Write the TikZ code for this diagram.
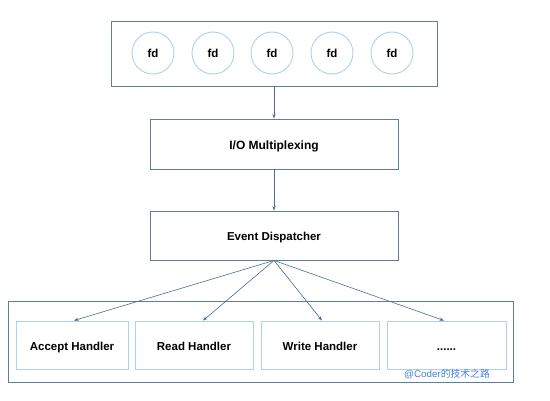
\documentclass[tikz,border=0pt]{standalone}
\usepackage{fontspec}
\setmainfont{Liberation Sans}
\newfontfamily\cjk{Noto Sans CJK SC}
\usetikzlibrary{arrows.meta,calc}
\definecolor{framec}{HTML}{5F7E9C}
\definecolor{lightc}{HTML}{A9D3F0}
\definecolor{arrc}{HTML}{4B6E92}
\definecolor{markc}{HTML}{4A7FE0}
\tikzset{
  frame/.style={draw=framec,line width=0.9pt,minimum height=#1,
    text height=11pt,text depth=1pt},
  fdcircle/.style={draw=lightc,line width=0.9pt,circle,minimum size=42pt,inner sep=0pt},
  handler/.style={draw=lightc,line width=0.9pt,minimum height=48pt,inner sep=0pt,
    text height=11pt,text depth=1pt},
  arr/.style={draw=arrc,line width=0.6pt,-{Stealth[length=4.5pt,width=3.2pt]}}
}
\begin{document}
\begin{tikzpicture}[x=1pt,y=1pt,font=\fontsize{11.5}{13}\selectfont\bfseries]
  \useasboundingbox (0,0) rectangle (550,400);
  \fill[white] (0,0) rectangle (550,400);
  % fd set
  \node[frame=65pt,minimum width=326pt] (fds) at (274,346.5) {};
  \foreach \x/\n in {153/1,213/2,272/3,332/4,392/5}
    \node[fdcircle] (fd\n) at (\x,347) {fd};
  % multiplexing and dispatching
  \node[frame=50pt,minimum width=248pt,font=\fontsize{12}{13}\selectfont\bfseries] (mux) at (274,256) {I/O Multiplexing};
  \node[frame=49pt,minimum width=248pt] (disp) at (274,164.5) {Event Dispatcher};
  % handlers
  \node[frame=81pt,minimum width=505pt] (hset) at (260.5,58.5) {};
  \node[handler,minimum width=112pt] (accept) at (72,55) {Accept Handler};
  \node[handler,minimum width=118pt] (read) at (194,55) {Read Handler};
  \node[handler,minimum width=118pt] (write) at (320,55) {Write Handler};
  \node[handler,minimum width=119pt] (more) at (446.5,55) {......};
  \node[text=markc,font=\fontsize{9.8}{11}\selectfont] (mark) at (447,26) {@Coder{\cjk 的技术之路}};
  % connectors
  \draw[arr] (fds.south) -- (mux.north);
  \draw[arr] (mux.south) -- (disp.north);
  \draw[arr] (disp.south) -- ([xshift=2pt]accept.north);
  \draw[arr] (disp.south) -- ([xshift=9pt]read.north);
  \draw[arr] (disp.south) -- ([xshift=2pt]write.north);
  \draw[arr] (disp.south) -- ([xshift=-2.5pt]more.north);
\end{tikzpicture}
\end{document}
